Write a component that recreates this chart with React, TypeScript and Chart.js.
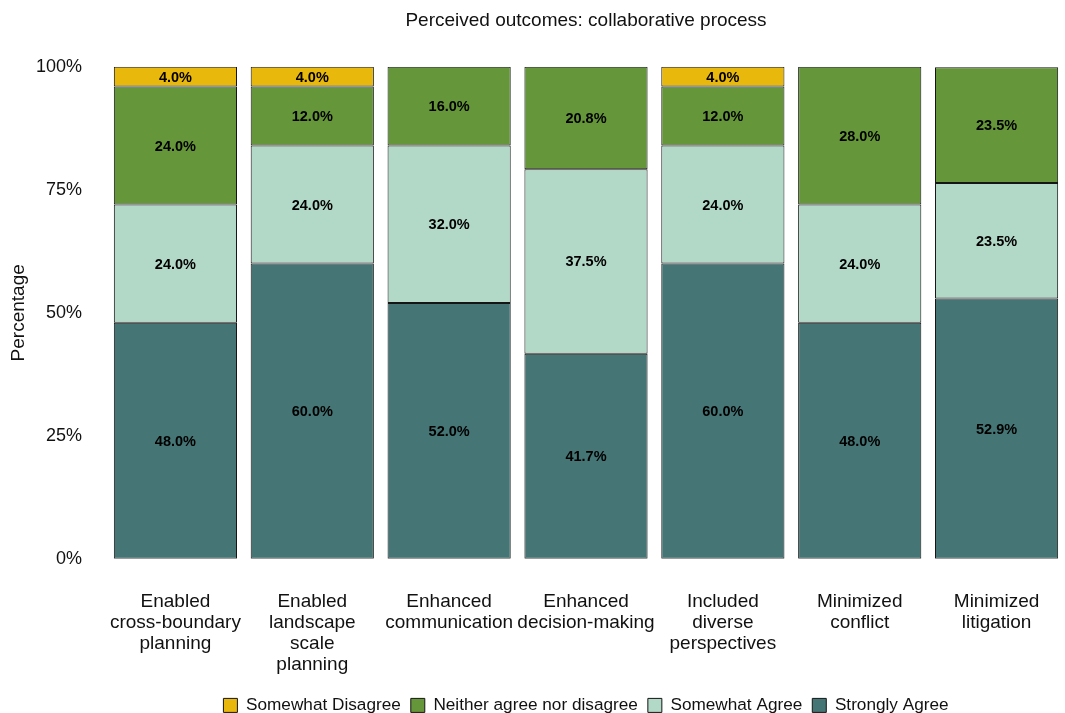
import React, { useEffect, useRef } from "react";
import { Chart, registerables } from "chart.js";

Chart.register(...registerables);

const categories: string[][] = [
  ["Enabled", "cross-boundary", "planning"],
  ["Enabled", "landscape", "scale", "planning"],
  ["Enhanced", "communication"],
  ["Enhanced", "decision-making"],
  ["Included", "diverse", "perspectives"],
  ["Minimized", "conflict"],
  ["Minimized", "litigation"],
];

const stronglyAgree = [48.0, 60.0, 52.0, 41.7, 60.0, 48.0, 52.9];
const somewhatAgree = [24.0, 24.0, 32.0, 37.5, 24.0, 24.0, 23.5];
const neither = [24.0, 12.0, 16.0, 20.8, 12.0, 28.0, 23.5];
const somewhatDisagree = [4.0, 4.0, 0, 0, 4.0, 0, 0];

const yTicks = [0, 25, 50, 75, 100];

const FONT = "'Liberation Sans', Arial, sans-serif";

const labelPlugin = {
  id: "barLabels",
  afterDatasetsDraw(chart: any) {
    const ctx = chart.ctx;
    ctx.save();
    ctx.font = `bold 14.5px ${FONT}`;
    ctx.fillStyle = "#000";
    ctx.textAlign = "center";
    ctx.textBaseline = "middle";
    chart.data.datasets.forEach((ds: any, di: number) => {
      const meta = chart.getDatasetMeta(di);
      if (meta.hidden) return;
      meta.data.forEach((el: any, i: number) => {
        const v = ds.data[i];
        if (!v) return;
        const y = (el.y + el.base) / 2;
        ctx.fillText(v.toFixed(1) + "%", el.x, y + 1);
      });
    });
    ctx.restore();
  },
};

export default function App() {
  const ref = useRef<HTMLCanvasElement>(null);
  useEffect(() => {
    document.body.style.margin = "0";
    const border = "#151515";
    const mk = (label: string, data: number[], color: string) => ({
      label,
      data,
      backgroundColor: color,
      borderColor: border,
      borderWidth: 1,
      borderSkipped: false,
      categoryPercentage: 1,
      barPercentage: 0.9,
    });
    const chart = new Chart(ref.current!, {
      type: "bar",
      data: {
        labels: categories,
        datasets: [
          mk("Strongly Agree", stronglyAgree, "#457575"),
          mk("Somewhat Agree", somewhatAgree, "#B2D8C7"),
          mk("Neither agree nor disagree", neither, "#66963A"),
          mk("Somewhat Disagree", somewhatDisagree, "#E9B80C"),
        ],
      },
      options: {
        animation: false,
        responsive: false,
        maintainAspectRatio: false,
        layout: { padding: { left: 7, right: 0, top: 0, bottom: -11 } },
        plugins: {
          title: {
            display: true,
            fullSize: false,
            text: "Perceived outcomes: collaborative process",
            color: "#111",
            font: { family: FONT, size: 19, weight: "normal" },
            padding: { top: 9, bottom: 35 },
          },
          legend: {
            position: "bottom",
            fullSize: false,
            reverse: true,
            labels: {
              color: "#111",
              font: { family: FONT, size: 17.2 },
              boxWidth: 14,
              boxHeight: 14,
              padding: 10,
            },
          },
          tooltip: { enabled: false },
        },
        scales: {
          x: {
            stacked: true,
            grid: { display: false, drawTicks: false },
            border: { display: false },
            ticks: {
              color: "#111",
              font: { family: FONT, size: 19, lineHeight: 1.105 },
              padding: 32,
              maxRotation: 0,
              autoSkip: false,
            },
            afterFit: (scale: any) => {
              scale.paddingLeft = 0;
              scale.paddingRight = 0;
              scale.height = 128;
            },
          },
          y: {
            stacked: true,
            min: 0,
            max: 100,
            afterBuildTicks: (axis: any) => {
              axis.ticks = yTicks.map((v) => ({ value: v }));
            },
            grid: { display: false, drawTicks: false },
            border: { display: false },
            ticks: {
              color: "#111",
              font: { family: FONT, size: 18 },
              padding: 25,
              callback: (v: any) => v + "%",
            },
            title: {
              display: true,
              text: "Percentage",
              color: "#111",
              font: { family: FONT, size: 19 },
              padding: { top: 0, bottom: 6 },
            },
            afterFit: (scale: any) => {
              scale.width = 100;
            },
          },
        },
      },
      plugins: [labelPlugin],
    });
    return () => chart.destroy();
  }, []);
  return (
    <div style={{ width: 1065, height: 713, background: "#fff" }}>
      <canvas ref={ref} width={1065} height={713} />
    </div>
  );
}
